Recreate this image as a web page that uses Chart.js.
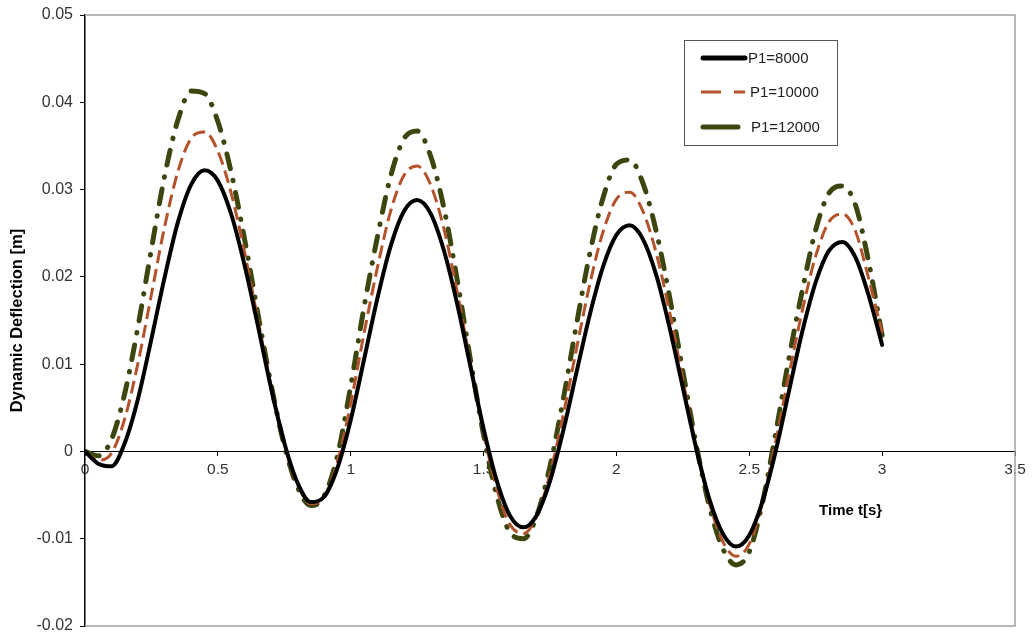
<!DOCTYPE html>
<html>
<head>
<meta charset="utf-8">
<style>
html,body{margin:0;padding:0;background:#fff;}
#wrap{width:1032px;height:637px;}
</style>
<script src="https://cdn.jsdelivr.net/npm/chart.js@4.4.1/dist/chart.umd.min.js"></script>
</head>
<body>
<div id="wrap"><canvas id="c" width="1032" height="637"></canvas></div>
<script>
const times = [0,0.05,0.1,0.15,0.2,0.25,0.3,0.35,0.4,0.45,0.5,0.55,0.6,0.65,0.7,0.75,0.8,0.85,0.9,0.95,
1,1.05,1.1,1.15,1.2,1.25,1.3,1.35,1.4,1.45,1.5,1.55,1.6,1.65,1.7,1.75,1.8,1.85,1.9,1.95,
2,2.05,2.1,2.15,2.2,2.25,2.3,2.35,2.4,2.45,2.5,2.55,2.6,2.65,2.7,2.75,2.8,2.85,2.9,2.95,3];

const p8000 = [0,-0.0014,-0.0017,0.0010,0.0061,0.0129,0.0200,0.0263,0.0306,0.0322,0.0310,0.0272,0.0214,0.0145,0.0073,0.0010,-0.0036,-0.0058,-0.0052,-0.0019,
0.0036,0.0105,0.0175,0.0235,0.0275,0.0288,0.0273,0.0231,0.0170,0.0098,0.0026,-0.0034,-0.0074,-0.0087,-0.0073,-0.0034,0.0024,0.0091,0.0157,0.0212,
0.0248,0.0259,0.0243,0.0202,0.0142,0.0073,0.0004,-0.0055,-0.0094,-0.0109,-0.0096,-0.0057,0.0001,0.0070,0.0138,0.0194,0.0230,0.0240,0.0222,0.0178,0.0122];

const p10000 = [0,-0.0010,-0.0002,0.0038,0.0102,0.0180,0.0258,0.0321,0.0359,0.0366,0.0344,0.0296,0.0229,0.0152,0.0075,0.0008,-0.0038,-0.0060,-0.0052,-0.0012,
0.0055,0.0135,0.0210,0.0275,0.0316,0.0327,0.0306,0.0256,0.0184,0.0102,0.0022,-0.0043,-0.0084,-0.0094,-0.0074,-0.0026,0.0042,0.0118,0.0192,0.0252,
0.0289,0.0297,0.0275,0.0227,0.0160,0.0082,0.0006,-0.0059,-0.0103,-0.0120,-0.0106,-0.0058,0.0012,0.0089,0.0162,0.0224,0.0263,0.0272,0.0252,0.0197,0.0136];

const p12000 = [0,-0.0005,0.0014,0.0067,0.0144,0.0232,0.0316,0.0380,0.0413,0.0410,0.0378,0.0320,0.0244,0.0159,0.0077,0.0007,-0.0041,-0.0062,-0.0051,-0.0005,
0.0075,0.0165,0.0245,0.0315,0.0358,0.0367,0.0339,0.0280,0.0198,0.0106,0.0019,-0.0051,-0.0093,-0.0100,-0.0074,-0.0017,0.0060,0.0146,0.0227,0.0291,
0.0329,0.0334,0.0307,0.0252,0.0177,0.0092,0.0008,-0.0063,-0.0111,-0.0130,-0.0115,-0.0058,0.0022,0.0108,0.0185,0.0254,0.0296,0.0304,0.0282,0.0216,0.0133];

const seriesNames = ['P1=8000','P1=10000','P1=12000'];
const xTicks = [0,0.5,1,1.5,2,2.5,3,3.5];
const yTicks = [0.05,0.04,0.03,0.02,0.01,0,-0.01,-0.02];
const xTitle = 'Time t[s}';
const yTitle = 'Dynamic Deflection [m]';

const FONT = 'Arial, "Liberation Sans", sans-serif';

function pts(arr){ return times.map((t,i)=>({x:t,y:arr[i]})); }

const styles = [
  {color:'#000000', width:4, dash:[], cap:'round', legendDash:[]},
  {color:'#B4532B', width:3, dash:[13,6], cap:'butt', legendDash:[20,13]},
  {color:'#3C4710', width:5, dash:[15,12,0.5,12], cap:'round', legendDash:[36,200]}
];
const seriesData = [p8000,p10000,p12000];

const datasets = seriesData.map((d,i)=>({
  label: seriesNames[i],
  data: pts(d),
  borderColor: styles[i].color,
  borderWidth: styles[i].width,
  borderDash: styles[i].dash,
  borderCapStyle: styles[i].cap,
  borderJoinStyle: 'round',
  pointRadius: 0,
  fill: false,
  order: i,
  cubicInterpolationMode: 'monotone'
}));

const extras = {
  id: 'extras',
  afterDraw(chart){
    const ctx = chart.ctx, a = chart.chartArea;
    const xs = chart.scales.x, ys = chart.scales.y;
    ctx.save();
    // plot-area border (top, right, bottom)
    ctx.strokeStyle = '#a0a0a0';
    ctx.lineWidth = 1.5;
    ctx.beginPath();
    ctx.moveTo(a.left, a.top); ctx.lineTo(a.right, a.top); ctx.lineTo(a.right, a.bottom); ctx.lineTo(a.left, a.bottom);
    ctx.stroke();
    // x-axis title
    ctx.fillStyle = '#000';
    ctx.font = 'bold 15px ' + FONT;
    ctx.textAlign = 'right';
    ctx.textBaseline = 'middle';
    ctx.fillText(xTitle, xs.getPixelForValue(3), ys.getPixelForValue(0) + 59);
    // legend
    const lx = a.right - 331, ly = a.top + 25, lw = 153, lh = 105;
    ctx.fillStyle = '#fff';
    ctx.fillRect(lx, ly, lw, lh);
    ctx.strokeStyle = '#555';
    ctx.lineWidth = 1;
    ctx.strokeRect(lx + 0.5, ly + 0.5, lw, lh);
    const rows = [18, 52, 87];
    const lens = [44, 44, 37];
    const textX = [64, 66, 67];
    ctx.font = '15px ' + FONT;
    ctx.textAlign = 'left';
    for (let i = 0; i < 3; i++) {
      const s = styles[i];
      const yy = ly + rows[i];
      ctx.strokeStyle = s.color;
      ctx.lineWidth = i === 1 ? 3 : 5;
      ctx.lineCap = i === 1 ? 'butt' : 'round';
      ctx.setLineDash(s.legendDash);
      ctx.beginPath();
      ctx.moveTo(lx + 17 + (i===1?0:2), yy);
      ctx.lineTo(lx + 17 + lens[i], yy);
      ctx.stroke();
      ctx.setLineDash([]);
      ctx.fillStyle = '#222';
      ctx.fillText(seriesNames[i], lx + textX[i], yy + 1);
    }
    ctx.restore();
  }
};

new Chart(document.getElementById('c'), {
  type: 'line',
  data: { datasets },
  options: {
    responsive: false,
    animation: false,
    layout: { padding: { top: 15, right: 17, bottom: 11, left: 0 } },
    plugins: { legend: { display: false }, tooltip: { enabled: false } },
    scales: {
      x: {
        type: 'linear',
        min: 0, max: 3.5,
        position: { y: 0 },
        afterBuildTicks(scale){ scale.ticks = xTicks.map(v=>({value:v})); },
        ticks: {
          color: '#333',
          font: { family: FONT, size: 15.5 },
          padding: 5,
          maxRotation: 0,
          callback: (v)=> String(Number(v.toFixed(2)))
        },
        grid: { display: true, drawOnChartArea: false, drawTicks: true, tickLength: 4, color: '#000' },
        border: { display: true, color: '#000', width: 1 }
      },
      y: {
        type: 'linear',
        min: -0.02, max: 0.05,
        afterFit(scale){ scale.width = 85; scale.paddingTop = 0; scale.paddingBottom = 0; },
        afterBuildTicks(scale){ scale.ticks = yTicks.map(v=>({value:v})); },
        ticks: {
          color: '#333',
          font: { family: FONT, size: 16 },
          padding: 7,
          callback: (v)=> String(Number(v.toFixed(2)))
        },
        title: {
          display: true,
          text: yTitle,
          color: '#000',
          font: { family: FONT, size: 16.5, weight: 'bold' },
          padding: { top: 8, bottom: 0 }
        },
        grid: { display: true, drawOnChartArea: false, drawTicks: true, tickLength: 5, color: '#000' },
        border: { display: true, color: '#000', width: 1.5 }
      }
    }
  },
  plugins: [extras]
});
</script>
</body>
</html>
